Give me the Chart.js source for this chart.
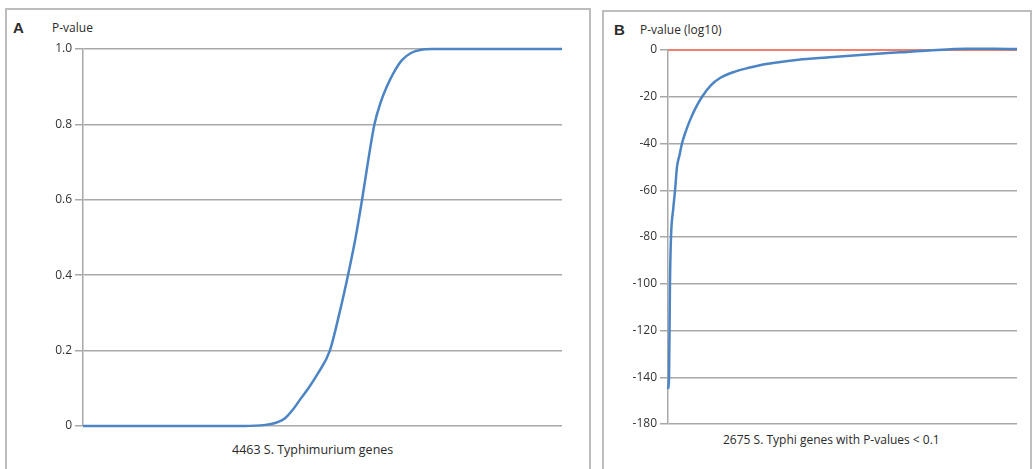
<!DOCTYPE html>
<html>
<head>
<meta charset="utf-8">
<script src="https://cdn.jsdelivr.net/npm/chart.js@4/dist/chart.umd.min.js"></script>
<style>
  html, body { margin:0; padding:0; background:#fff; }
  body { width:1034px; height:469px; position:relative; overflow:hidden; font-family:"Open Sans", sans-serif; color:#2a2a2a; }
  .panel { position:absolute; border:2px solid #bdbdbd; box-sizing:border-box; }
  .lbl { position:absolute; white-space:nowrap; font-size:12px; }
  .big { position:absolute; font-weight:bold; font-size:15px; font-family:"Liberation Sans", Arial, sans-serif; }
  canvas { position:absolute; }
</style>
</head>
<body>
<div class="panel" style="left:5px;top:8px;width:586px;height:480px;"></div>
<div class="panel" style="left:602px;top:10px;width:430px;height:480px;"></div>

<div class="big" style="left:13px;top:19px;">A</div>
<div class="lbl" style="left:52px;top:19px;">P-value</div>
<div class="lbl" style="left:232px;top:441px;font-size:12.5px;">4463 S. Typhimurium genes</div>

<div class="big" style="left:614px;top:21px;">B</div>
<div class="lbl" style="left:640px;top:21px;">P-value (log10)</div>
<div class="lbl" style="left:723px;top:431px;">2675 S. Typhi genes with P-values &lt; 0.1</div>

<div style="position:absolute;left:0;top:0;width:600px;height:469px;"><canvas id="cA"></canvas></div>
<div style="position:absolute;left:603px;top:0;width:431px;height:469px;"><canvas id="cB"></canvas></div>

<script>
// Panel A: 4463 S. Typhimurium genes, sorted P-values
const genesA = [0, 1500, 1700, 1790, 1880, 1960, 2022, 2100, 2190, 2300, 2390, 2469, 2540, 2600, 2655, 2715, 2775, 2830, 2900, 2970, 3060, 3150, 3250, 4463];
const pvalA  = [0, 0, 0.003, 0.008, 0.02, 0.045, 0.07, 0.1, 0.14, 0.2, 0.3, 0.4, 0.5, 0.6, 0.7, 0.8, 0.86, 0.9, 0.94, 0.97, 0.99, 0.998, 1, 1];
const ticksA = [0, 0.2, 0.4, 0.6, 0.8, 1.0];
const totalA = 4463;

// Panel B: 2675 S. Typhi genes with P-values < 0.1, log10 P-values
const genesB = [0, 8, 15, 23, 40, 54, 69, 88, 107, 135, 169, 210, 261, 330, 399, 500, 628, 720, 835, 1000, 1219, 1500, 1778, 2000, 2292, 2500, 2675];
const logpB  = [-145, -140, -100, -80, -68, -60, -50, -45, -40, -35, -30, -25, -20, -15, -12, -9.5, -7.5, -6.3, -5.3, -4.2, -3.2, -2, -1, -0.2, 0.5, 0.5, 0.4];
const refB   = [0, 0];
const ticksB = ['0', '-20', '-40', '-60', '-80', '-100', '-120', '-140', '-180'];
const totalB = 2675;

const gridColor = '#a8a8a8';
const tickFont = { family: 'Open Sans', size: 12 };
const blue = '#4c84c4';

function makeChart(id, w, h, area, ds, yopts, xmax) {
  const cv = document.getElementById(id);
  cv.style.width = w + 'px'; cv.style.height = h + 'px';
  return new Chart(cv, {
    type: 'line',
    data: { datasets: ds },
    options: {
      responsive: true, maintainAspectRatio: false, animation: false,
      layout: { autoPadding: false, padding: { left: 0, top: area.top, right: w - area.right, bottom: 0 } },
      plugins: { legend: { display: false }, tooltip: { enabled: false } },
      elements: { point: { radius: 0 } },
      scales: {
        x: {
          type: 'linear', min: 0, max: xmax,
          ticks: { display: false }, grid: { display: false, drawTicks: false },
          border: { display: false },
          afterFit: s => { s.height = h - area.bottom; }
        },
        y: Object.assign({
          border: { display: true, color: gridColor, width: 1.5 },
          grid: { color: gridColor, lineWidth: 1.5, tickLength: 8, drawTicks: true },
          afterFit: s => { s.width = area.left; }
        }, yopts)
      }
    }
  });
}

makeChart('cA', 600, 469, { left: 83, right: 562, top: 49, bottom: 426 }, [
  { data: genesA.map((g, i) => ({ x: g, y: pvalA[i] })), borderColor: blue, borderWidth: 2.5, cubicInterpolationMode: 'monotone', fill: false, clip: 4 }
], {
  min: 0, max: 1,
  afterBuildTicks: s => { s.ticks = ticksA.map(v => ({ value: v })); },
  ticks: { font: tickFont, color: '#333', padding: 3, callback: v => v === 0 ? '0' : v.toFixed(1) }
}, totalA);

makeChart('cB', 431, 469, { left: 65, right: 414, top: 50, bottom: 424 }, [
  { data: genesB.map((g, i) => ({ x: g, y: logpB[i] })), borderColor: blue, borderWidth: 2.5, cubicInterpolationMode: 'monotone', fill: false, order: 1, clip: 6 },
  { data: [{ x: 0, y: refB[0] }, { x: totalB, y: refB[1] }], borderColor: '#f07f6c', borderWidth: 2, fill: false, order: 2, clip: 4 }
], {
  min: -160, max: 0,
  afterBuildTicks: s => { s.ticks = ticksB.map((t, i) => ({ value: -20 * i })); },
  ticks: { font: tickFont, color: '#333', padding: 3, callback: (v, i) => ticksB[i] }
}, totalB);
</script>
</body>
</html>
